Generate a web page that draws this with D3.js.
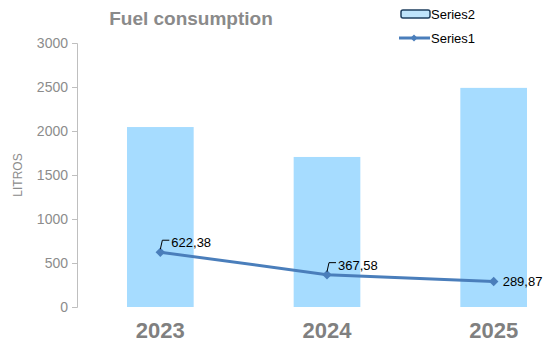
<!DOCTYPE html>
<html><head><meta charset="utf-8">
<script src="https://cdn.jsdelivr.net/npm/d3@7"></script>
<style>body{margin:0;background:#fff}svg{display:block}</style>
</head><body>
<svg id="c" width="547" height="347"></svg>
<script>
const categories = ["2023", "2024", "2025"];
const series2 = [2045, 1705, 2490];
const series1 = [622.38, 367.58, 289.87];
const yTicks = [0, 500, 1000, 1500, 2000, 2500, 3000];
const pointLabels = ["622,38", "367,58", "289,87"];

const svg = d3.select("#c");
const x = d3.scaleBand().domain(categories).range([77, 577]).paddingInner(0.6).paddingOuter(0.3);
const y = d3.scaleLinear().domain([0, 3000]).range([307, 43]);

// bars
svg.selectAll("rect.bar").data(series2).join("rect")
  .attr("class", "bar")
  .attr("x", (d, i) => x(categories[i]))
  .attr("width", x.bandwidth())
  .attr("y", d => y(d))
  .attr("height", d => y(0) - y(d))
  .attr("fill", "#a6dcff");

// y axis
const yAxis = d3.axisLeft(y).tickValues(yTicks).tickFormat(d3.format("d")).tickSize(5).tickPadding(4);
const ga = svg.append("g").attr("transform", "translate(77,0)").call(yAxis);
ga.select(".domain").attr("stroke", "#bfbfbf");
ga.selectAll(".tick line").attr("stroke", "#bfbfbf");
ga.selectAll(".tick text").attr("fill", "#8c8c8c").style("font-family", "Liberation Sans, Arial, sans-serif").style("font-size", "14px");

// x labels
const xAxis = d3.axisBottom(x).tickSize(0).tickPadding(0);
const gx = svg.append("g").attr("transform", "translate(0,318)").call(xAxis);
gx.select(".domain").remove();
gx.selectAll(".tick text").attr("fill", "#808080").attr("dy", "0.9em")
  .style("font-family", "Liberation Sans, Arial, sans-serif").style("font-size", "22px").style("font-weight", "bold");

// line
const cx = (d, i) => x(categories[i]) + x.bandwidth() / 2;
const line = d3.line().x(cx).y(d => y(d));
svg.append("path").datum(series1).attr("d", line)
  .attr("fill", "none").attr("stroke", "#4a7ebb").attr("stroke-width", 3);
svg.selectAll("path.mk").data(series1).join("path").attr("class", "mk")
  .attr("d", d3.symbol().type(d3.symbolSquare).size(45))
  .attr("transform", (d, i) => `translate(${cx(d, i)},${y(d)}) rotate(45)`)
  .attr("fill", "#4a7ebb");

// labels with leaders
series1.forEach((d, i) => {
  const px = cx(d, i), py = y(d);
  if (i < 2) {
    svg.append("path")
      .attr("d", `M${px},${py - 3} L${px + 2},${py - 12} L${px + 9},${py - 12}`)
      .attr("fill", "none").attr("stroke", "#000").attr("stroke-width", 1);
    svg.append("text").attr("x", px + 11).attr("y", py - 5).text(pointLabels[i])
      .attr("fill", "#000").style("font-family", "Liberation Sans, Arial, sans-serif").style("font-size", "13px");
  } else {
    svg.append("text").attr("x", px + 9).attr("y", py + 5).text(pointLabels[i])
      .attr("fill", "#000").style("font-family", "Liberation Sans, Arial, sans-serif").style("font-size", "13px");
  }
});

// title
svg.append("text").attr("x", 191).attr("y", 25).attr("text-anchor", "middle")
  .text("Fuel consumption").attr("fill", "#8a8a8a")
  .style("font-family", "Liberation Sans, Arial, sans-serif").style("font-size", "19px").style("font-weight", "bold");

// y title
svg.append("text").attr("transform", "translate(22,175) rotate(-90)").attr("text-anchor", "middle")
  .text("LITROS").attr("fill", "#8c8c8c")
  .style("font-family", "Liberation Sans, Arial, sans-serif").style("font-size", "12px");

// legend
svg.append("rect").attr("x", 401).attr("y", 10).attr("width", 29).attr("height", 8).attr("rx", 2)
  .attr("fill", "#bfe4fb").attr("stroke", "#1f3f5f").attr("stroke-width", 1.5);
svg.append("text").attr("x", 431).attr("y", 19).text("Series2").attr("fill", "#000")
  .style("font-family", "Liberation Sans, Arial, sans-serif").style("font-size", "13px");
svg.append("line").attr("x1", 399).attr("x2", 430).attr("y1", 38).attr("y2", 38)
  .attr("stroke", "#4a7ebb").attr("stroke-width", 3);
svg.append("path").attr("d", d3.symbol().type(d3.symbolSquare).size(25)).attr("transform", "translate(414,38) rotate(45)").attr("fill", "#4a7ebb");
svg.append("text").attr("x", 431).attr("y", 43).text("Series1").attr("fill", "#000")
  .style("font-family", "Liberation Sans, Arial, sans-serif").style("font-size", "13px");
</script>
</body></html>
